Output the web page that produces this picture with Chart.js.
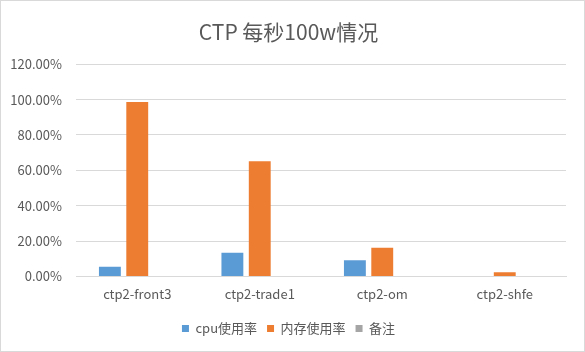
<!DOCTYPE html>
<html>
<head>
<meta charset="utf-8">
<script src="https://cdn.jsdelivr.net/npm/chart.js@4"></script>
<style>
  body { margin: 0; background: #fff; }
  #wrap { width: 585px; height: 352px; box-sizing: border-box; border: 1px solid #d9d9d9; }
</style>
</head>
<body>
<div id="wrap"><canvas id="barChart" width="583" height="350"></canvas></div>
<script>
var categories = ['ctp2-front3', 'ctp2-trade1', 'ctp2-om', 'ctp2-shfe'];
var cpuUsage = [0.055, 0.134, 0.092, 0];
var memUsage = [0.986, 0.651, 0.162, 0.024];
var remarks = [null, null, null, null];
var yTicks = [0, 0.2, 0.4, 0.6, 0.8, 1.0, 1.2];

var fontFamily = '"Noto Sans CJK SC", "Noto Sans", sans-serif';
var textColor = '#595959';

var ctx = document.getElementById('barChart').getContext('2d');
var myChart = new Chart(ctx, {
    type: 'bar',
    data: {
        labels: categories,
        datasets: [{
            label: 'cpu使用率',
            data: cpuUsage,
            backgroundColor: '#5b9bd5'
        }, {
            label: '内存使用率',
            data: memUsage,
            backgroundColor: '#ed7d31'
        }, {
            label: '备注',
            data: remarks,
            backgroundColor: '#a5a5a5'
        }]
    },
    options: {
        responsive: false,
        animation: false,
        layout: { padding: { left: 10, right: 18, top: 12, bottom: 6 } },
        datasets: {
            bar: { categoryPercentage: 0.67, barPercentage: 0.8 }
        },
        scales: {
            x: {
                grid: { display: false, drawTicks: false },
                border: { color: '#d9d9d9' },
                ticks: { color: textColor, font: { family: fontFamily, size: 13 }, padding: 10 }
            },
            y: {
                min: 0,
                max: 1.2,
                afterBuildTicks: function (axis) {
                    axis.ticks = yTicks.map(function (v) { return { value: v }; });
                },
                afterFit: function (axis) { axis.width = 65; },
                grid: { color: '#d9d9d9', drawTicks: false },
                border: { display: false },
                ticks: {
                    color: textColor,
                    font: { family: fontFamily, size: 13 },
                    padding: 14,
                    callback: function (v) { return (v * 100).toFixed(2) + '%'; }
                }
            }
        },
        plugins: {
            title: {
                display: true,
                text: 'CTP 每秒100w情况',
                color: textColor,
                font: { family: fontFamily, size: 21, weight: 'normal' },
                padding: { top: 6, bottom: 20 }
            },
            legend: {
                position: 'bottom',
                labels: {
                    color: textColor,
                    font: { family: fontFamily, size: 13 },
                    boxWidth: 7,
                    boxHeight: 7,
                    padding: 10
                }
            },
            tooltip: { enabled: false }
        }
    }
});
</script>
</body>
</html>
